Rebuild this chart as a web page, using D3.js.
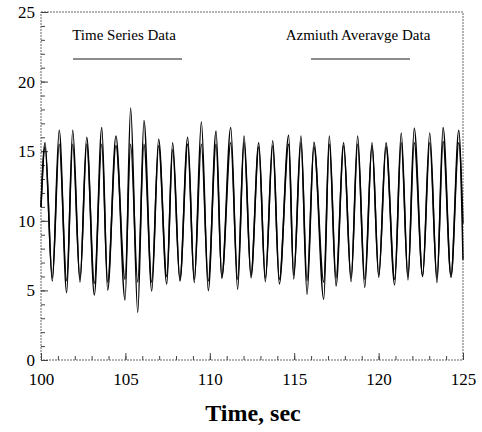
<!DOCTYPE html>
<html>
<head>
<meta charset="utf-8">
<script src="https://cdn.jsdelivr.net/npm/d3@7"></script>
<style>
  html, body { margin: 0; padding: 0; background: #fff; }
  svg { display: block; }
</style>
</head>
<body>
<svg id="chart" width="482" height="432"></svg>
<script>
// ---- data ----
// times of successive extrema (seconds)
const times = [100.00, 100.24, 100.67, 101.08, 101.52, 101.88, 102.31, 102.71, 103.16, 103.60,
  103.95, 104.44, 104.98, 105.31, 105.73, 106.10, 106.56, 106.97, 107.45, 107.80,
  108.23, 108.69, 109.08, 109.50, 109.91, 110.37, 110.71, 111.24, 111.65, 112.03,
  112.44, 112.90, 113.29, 113.73, 114.12, 114.67, 114.97, 115.40, 115.76, 116.17,
  116.75, 117.08, 117.48, 117.93, 118.37, 118.76, 119.18, 119.61, 120.01, 120.44,
  120.95, 121.34, 121.74, 122.11, 122.61, 123.03, 123.46, 123.82, 124.29, 124.75, 125.00];
const timeSeriesData = [11.0, 15.6, 5.67, 16.5, 4.84, 16.5, 5.6, 16.0, 4.67, 16.7,
  5.03, 16.1, 4.31, 18.1, 3.42, 17.2, 4.96, 15.85, 5.46, 15.6,
  5.67, 16.0, 5.56, 17.1, 4.98, 16.45, 5.87, 16.7, 5.08, 16.1,
  5.91, 15.6, 5.63, 15.75, 5.46, 16.15, 5.82, 16.1, 4.72, 15.65,
  4.36, 16.1, 5.32, 15.6, 5.63, 16.1, 5.22, 15.6, 5.94, 15.6,
  5.39, 16.3, 5.75, 16.65, 5.99, 16.3, 5.56, 16.7, 5.94, 16.5, 7.2];
const azimuthAverageData = [11.0, 15.3, 5.9, 15.5, 5.7, 15.5, 5.8, 15.5, 5.5, 15.5,
  5.6, 15.4, 5.8, 15.5, 5.6, 15.5, 5.6, 15.4, 6.0, 15.1,
  5.8, 15.5, 5.8, 15.5, 5.7, 15.5, 6.0, 15.6, 5.8, 15.6,
  6.1, 15.3, 5.9, 15.4, 5.8, 15.5, 6.1, 15.6, 5.7, 15.3,
  5.6, 15.5, 5.9, 15.4, 5.9, 15.5, 5.8, 15.4, 6.1, 15.3,
  5.8, 15.6, 6.0, 15.6, 6.1, 15.6, 5.9, 15.7, 6.1, 15.6, 9.8];
const xTicks = [100, 105, 110, 115, 120, 125];
const yTicks = [0, 5, 10, 15, 20, 25];
const legendLabels = ["Time Series Data", "Azmiuth Averavge Data"];
const xTitle = "Time, sec";

// ---- layout ----
const svg = d3.select("#chart");
const mLeft = 41, mRight = 463, mTop = 12, mBottom = 360;
const x = d3.scaleLinear().domain([100, 125]).range([mLeft, mRight]);
const y = d3.scaleLinear().domain([0, 25]).range([mBottom, mTop]);
const font = "'Liberation Serif', 'Times New Roman', serif";

// frame
svg.append("rect")
  .attr("x", mLeft).attr("y", mTop)
  .attr("width", mRight - mLeft).attr("height", mBottom - mTop)
  .attr("fill", "none").attr("stroke", "#666").attr("stroke-width", 1)
  .attr("stroke-dasharray", "2,1");

// x axis minor + major
const xMinor = d3.range(100, 125.01, 1);
svg.append("g").attr("transform", `translate(0,${mBottom})`)
  .call(d3.axisBottom(x).tickValues(xMinor).tickSize(-4).tickFormat(""))
  .call(g => g.select(".domain").remove())
  .call(g => g.selectAll("line").attr("stroke", "#444"));
const gx = svg.append("g").attr("transform", `translate(0,${mBottom})`)
  .call(d3.axisBottom(x).tickValues(xTicks).tickSizeInner(-7).tickSizeOuter(0).tickPadding(13).tickFormat(d3.format("d")))
  .call(g => g.select(".domain").remove())
  .attr("font-family", font).attr("font-size", 17);
gx.selectAll("line").attr("stroke", "#444");
gx.selectAll("text").attr("fill", "#000");

// y axis minor + major
const yMinor = d3.range(0, 25.01, 1);
svg.append("g").attr("transform", `translate(${mLeft},0)`)
  .call(d3.axisLeft(y).tickValues(yMinor).tickSize(-4).tickFormat(""))
  .call(g => g.select(".domain").remove())
  .call(g => g.selectAll("line").attr("stroke", "#444"));
const gy = svg.append("g").attr("transform", `translate(${mLeft},0)`)
  .call(d3.axisLeft(y).tickValues(yTicks).tickSizeInner(-7).tickSizeOuter(0).tickPadding(6).tickFormat(d3.format("d")))
  .call(g => g.select(".domain").remove())
  .attr("font-family", font).attr("font-size", 17);
gy.selectAll("line").attr("stroke", "#444");
gy.selectAll("text").attr("fill", "#000");

// x title
svg.append("text")
  .attr("x", (mLeft + mRight) / 2 + 1).attr("y", 421)
  .attr("text-anchor", "middle")
  .attr("font-family", font).attr("font-weight", "bold").attr("font-size", 24)
  .text(xTitle);

// lines
const line = vals => d3.line()
  .x((d, i) => x(times[i]))
  .y(d => y(d))
  .curve(d3.curveMonotoneX)(vals);

svg.append("path").attr("d", line(azimuthAverageData))
  .attr("fill", "none").attr("stroke", "#111").attr("stroke-width", 1.5);
svg.append("path").attr("d", line(timeSeriesData))
  .attr("fill", "none").attr("stroke", "#000").attr("stroke-width", 1.5);

// legend
const legendPos = [{tx: 124, lx1: 73, lx2: 182}, {tx: 358, lx1: 311, lx2: 410}];
legendLabels.forEach((lab, i) => {
  svg.append("text").attr("x", legendPos[i].tx).attr("y", 40)
    .attr("text-anchor", "middle").attr("font-family", font).attr("font-size", 15)
    .text(lab);
  svg.append("line").attr("x1", legendPos[i].lx1).attr("x2", legendPos[i].lx2)
    .attr("y1", 59).attr("y2", 59).attr("stroke", "#666").attr("stroke-width", 1.5);
});
</script>
</body>
</html>
